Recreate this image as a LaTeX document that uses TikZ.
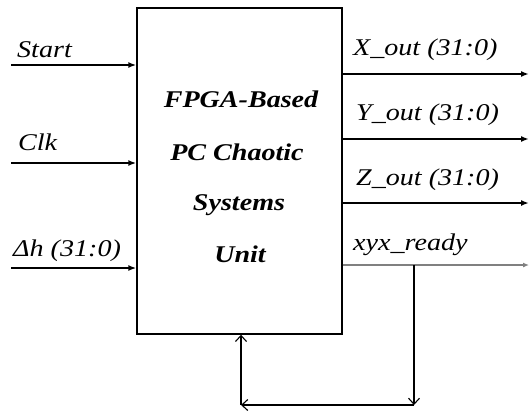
\documentclass[tikz,border=0pt]{standalone}
\usepackage{fontspec}
\setmainfont{Liberation Serif}[FakeStretch=1.17]
\usetikzlibrary{arrows.meta}
\begin{document}
\begin{tikzpicture}[x=1pt,y=-1pt,
  sig/.style={line width=2.6pt,-{Latex[length=8pt,width=6pt]}},
  rdy/.style={line width=1.5pt,draw=black!50,-{Latex[length=6pt,width=5pt]}},
  fbk/.style={line width=1.1pt,-{Straight Barb[length=6pt,width=11pt]}},
  lbl/.style={anchor=base west,inner sep=0pt,font=\fontsize{24}{28}\selectfont\itshape},
  ttl/.style={anchor=base,inner sep=0pt,font=\fontsize{24}{28}\selectfont\bfseries\itshape}]
\useasboundingbox (0,0) rectangle (529,412);
\node[draw,line width=1.4pt,minimum width=205pt,minimum height=326pt,inner sep=0pt] (unit) at (239.5,171) {};
\node[ttl] (t1) at (241,107) {FPGA-Based};
\node[ttl] (t2) at (237,160) {PC Chaotic};
\node[ttl] (t3) at (239,210) {Systems};
\node[ttl] (t4) at (240,262) {Unit};
% inputs
\coordinate (si) at (11,65);
\coordinate (ci) at (11,163);
\coordinate (hi) at (11,268);
\draw[sig] (si) -- (si -| unit.west);
\draw[sig] (ci) -- (ci -| unit.west);
\draw[sig] (hi) -- (hi -| unit.west);
\node[lbl] (ls) at (17,57) {Start};
\node[lbl] (lc) at (18,150) {Clk};
\node[lbl] (lh) at (13,256) {Δh (31:0)};
% outputs
\coordinate (xo) at (529,74);
\coordinate (yo) at (529,139);
\coordinate (zo) at (529,203);
\coordinate (ro) at (529,265);
\draw[sig] (unit.east |- xo) -- (xo);
\draw[sig] (unit.east |- yo) -- (yo);
\draw[sig] (unit.east |- zo) -- (zo);
\draw[rdy] (unit.east |- ro) -- (ro);
\node[lbl] (lx) at (353,56) {X\_out (31:0)};
\node[lbl] (ly) at (356,120) {Y\_out (31:0)};
\node[lbl] (lz) at (356,185) {Z\_out (31:0)};
\node[lbl] (lr) at (353,250) {xyx\_ready};
% feedback
\coordinate (fa) at (414,265);
\coordinate (fb) at (414,405);
\coordinate (fc) at (241,405);
\draw[fbk] (fa) -- (fb);
\draw[fbk] (fb) -- (fc);
\draw[fbk] (fc) -- (fc |- unit.south);
\end{tikzpicture}
\end{document}
